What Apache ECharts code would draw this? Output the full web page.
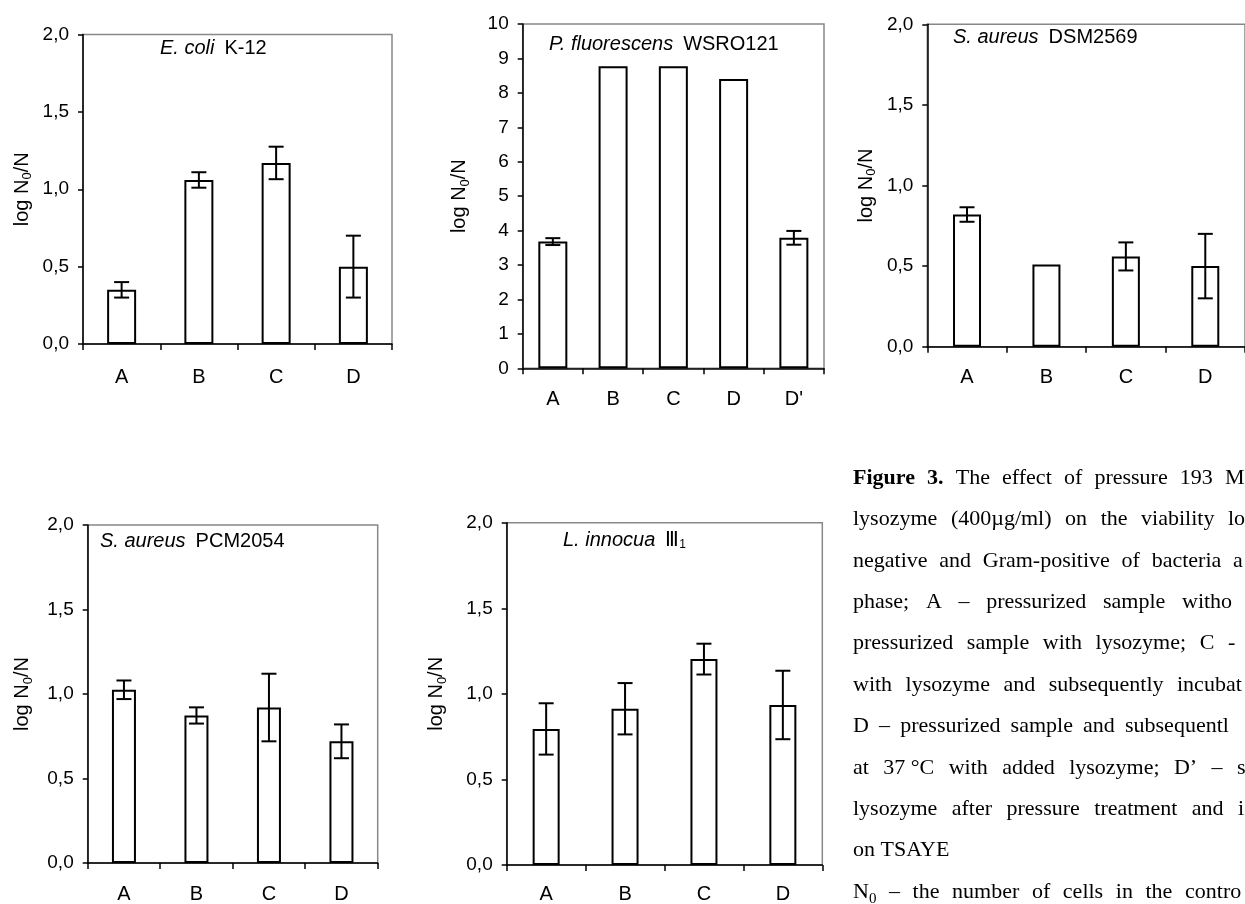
<!DOCTYPE html>
<html><head><meta charset="utf-8">
<script src="https://cdn.jsdelivr.net/npm/echarts@6/dist/echarts.min.js"></script>
<style>html,body{margin:0;padding:0;background:#fff}#c{width:1245px;height:904px}</style>
</head><body><div id="c"></div>
<script>
// ---------- data ----------
const categories4 = ['A', 'B', 'C', 'D'];
const categories5 = ['A', 'B', 'C', 'D', "D'"];

const ecoliMean = [0.35, 1.06, 1.17, 0.50];
const ecoliErr  = [0.05, 0.05, 0.105, 0.20];

const pfluMean = [3.68, 8.77, 8.77, 8.40, 3.79];
const pfluErr  = [0.10, 0, 0, 0, 0.20];

const sadsmMean = [0.82, 0.51, 0.56, 0.50];
const sadsmErr  = [0.045, 0, 0.087, 0.20];

const sapcmMean = [1.025, 0.873, 0.92, 0.72];
const sapcmErr  = [0.055, 0.048, 0.20, 0.10];

const linnMean = [0.795, 0.913, 1.203, 0.935];
const linnErr  = [0.15, 0.15, 0.09, 0.20];

const yTicksSmall = [0, 0.5, 1.0, 1.5, 2.0];
const yTicksBig = [0, 1, 2, 3, 4, 5, 6, 7, 8, 9, 10];

const captionLines = [
  ['*Figure', '*3.', 'The', 'effect', 'of', 'pressure', '193', 'M'],
  ['lysozyme', '(400µg/ml)', 'on', 'the', 'viability', 'lo'],
  ['negative', 'and', 'Gram-positive', 'of', 'bacteria', 'a'],
  ['phase;', 'A', '–', 'pressurized', 'sample', 'witho'],
  ['pressurized', 'sample', 'with', 'lysozyme;', 'C', '-'],
  ['with', 'lysozyme', 'and', 'subsequently', 'incubat'],
  ['D', '–', 'pressurized', 'sample', 'and', 'subsequentl'],
  ['at', '37\u00a0°C', 'with', 'added', 'lysozyme;', 'D’', '–', 's'],
  ['lysozyme', 'after', 'pressure', 'treatment', 'and', 'i'],
  ['on', 'TSAYE'],
  ['N_0', '–', 'the', 'number', 'of', 'cells', 'in', 'the', 'contro']
];

// ---------- layout ----------
const SANS = '"Liberation Sans", Arial, sans-serif';
const SERIF = '"Liberation Serif", "Times New Roman", serif';

const panels = [
  { cats: categories4, mean: ecoliMean, err: ecoliErr, ticks: yTicksSmall,
    grid: { left: 83, top: 34.5, width: 309, height: 309.5 }, barWidth: 29, nameGap: 49, catMargin: 23,
    title: { left: 160, top: 38, text: '{i|E. coli}  {n|K-12}', size: 20 } },
  { cats: categories5, mean: pfluMean, err: pfluErr, ticks: yTicksBig,
    grid: { left: 522.7, top: 24, width: 301.3, height: 344.3 }, barWidth: 29, nameGap: 51, catMargin: 21,
    title: { left: 549, top: 34, text: '{i|P. fluorescens}  {n|WSRO121}', size: 20 } },
  { cats: categories4, mean: sadsmMean, err: sadsmErr, ticks: yTicksSmall,
    grid: { left: 927.3, top: 24.3, width: 328, height: 322.4 }, barWidth: 28, nameGap: 49, catMargin: 21,
    title: { left: 953, top: 27, text: '{i|S. aureus}  {n|DSM2569}', size: 20 } },
  { cats: categories4, mean: sapcmMean, err: sapcmErr, ticks: yTicksSmall,
    grid: { left: 87.7, top: 525, width: 290, height: 340 }, barWidth: 24, nameGap: 53, catMargin: 21,
    title: { left: 100, top: 531, text: '{i|S. aureus}  {n|PCM2054}', size: 20 } },
  { cats: categories4, mean: linnMean, err: linnErr, ticks: yTicksSmall,
    grid: { left: 506.7, top: 522.7, width: 315.6, height: 342.3 }, barWidth: 27, nameGap: 58, catMargin: 19,
    title: { left: 563, top: 529, text: '{i|L. innocua}  {n|Ⅲ}{s|1}', size: 20 } }
];

function fmtTick(v, big) {
  return big ? String(v) : v.toFixed(1).replace('.', ',');
}

function errRender(params, api) {
  const x = api.value(0), m = api.value(1), e = api.value(2);
  if (!e) return null;
  const top = api.coord([x, m + e]);
  const bot = api.coord([x, m - e]);
  const hw = 7.5;
  const st = { stroke: '#000', lineWidth: 2 };
  return { type: 'group', children: [
    { type: 'line', shape: { x1: top[0], y1: top[1], x2: bot[0], y2: bot[1] }, style: st },
    { type: 'line', shape: { x1: top[0] - hw, y1: top[1], x2: top[0] + hw, y2: top[1] }, style: st },
    { type: 'line', shape: { x1: bot[0] - hw, y1: bot[1], x2: bot[0] + hw, y2: bot[1] }, style: st }
  ]};
}

const grids = [], xAxes = [], yAxes = [], series = [], titles = [];
panels.forEach((p, i) => {
  const big = p.ticks === yTicksBig;
  grids.push(Object.assign({ show: true, borderColor: '#888', borderWidth: 1.5, backgroundColor: 'transparent' }, p.grid));
  xAxes.push({
    type: 'category', gridIndex: i, data: p.cats,
    axisLine: { lineStyle: { color: '#000', width: 1.5 } },
    axisTick: { show: true, length: 6, lineStyle: { color: '#000', width: 1.5 } },
    axisLabel: { color: '#000', fontSize: 20, fontFamily: SANS, margin: p.catMargin }
  });
  yAxes.push({
    type: 'value', gridIndex: i,
    min: p.ticks[0], max: p.ticks[p.ticks.length - 1], interval: p.ticks[1] - p.ticks[0],
    splitLine: { show: false },
    axisLine: { show: true, lineStyle: { color: '#000', width: 1.5 } },
    axisTick: { show: true, length: 5, lineStyle: { color: '#000', width: 1.5 } },
    axisLabel: { color: '#000', fontSize: 19, fontFamily: SANS, margin: 14, formatter: v => fmtTick(v, big) },
    name: '{a|log N}{s|0}{a|/N}', nameLocation: 'middle', nameGap: p.nameGap,
    nameTextStyle: { color: '#000', fontFamily: SANS, fontSize: 20,
      rich: { a: { fontSize: 20, fontFamily: SANS, color: '#000' },
              s: { fontSize: 13, fontFamily: SANS, color: '#000', padding: [11, 0, 0, 0] } } }
  });
  series.push({
    type: 'bar', xAxisIndex: i, yAxisIndex: i, data: p.mean, barWidth: p.barWidth,
    itemStyle: { color: '#fff', borderColor: '#000', borderWidth: 2 }, silent: true
  });
  series.push({
    type: 'custom', xAxisIndex: i, yAxisIndex: i, z: 5, silent: true,
    data: p.cats.map((c, k) => [k, p.mean[k], p.err[k]]),
    renderItem: errRender
  });
  titles.push({
    left: p.title.left, top: p.title.top, padding: 0, text: p.title.text,
    textStyle: { fontWeight: 'normal', rich: {
      i: { fontStyle: 'italic', fontWeight: 'normal', fontSize: p.title.size, fontFamily: SANS, color: '#000' },
      n: { fontWeight: 'normal', fontSize: p.title.size, fontFamily: SANS, color: '#000' },
      s: { fontWeight: 'normal', fontSize: 12, fontFamily: SANS, color: '#000', padding: [10, 0, 0, 0] }
    } }
  });
});

// ---------- caption (justified text, clipped at right edge) ----------
const CAP_X = 853, CAP_Y0 = 478, CAP_DY = 41.4, CAP_SIZE = 22;
const captionLastX = [1225, 1228, 1233, 1182, 1228, 1177, 1125, 1237, 1238, null, 1185];
const mctx = document.createElement('canvas').getContext('2d');
function measure(word) {
  const bold = word[0] === '*';
  if (word === 'N_0') {
    mctx.font = CAP_SIZE + 'px ' + SERIF; const w1 = mctx.measureText('N').width;
    mctx.font = '15px ' + SERIF; return w1 + mctx.measureText('0').width;
  }
  mctx.font = (bold ? 'bold ' : '') + CAP_SIZE + 'px ' + SERIF;
  return mctx.measureText(bold ? word.slice(1) : word).width;
}
const graphics = [];
captionLines.forEach((words, li) => {
  const y = CAP_Y0 + li * CAP_DY;
  const widths = words.map(measure);
  let gap;
  if (captionLastX[li] == null) {
    mctx.font = CAP_SIZE + 'px ' + SERIF; gap = mctx.measureText(' ').width;
  } else {
    const sumBefore = widths.slice(0, -1).reduce((a, b) => a + b, 0);
    gap = (captionLastX[li] - CAP_X - sumBefore) / (words.length - 1);
  }
  let x = CAP_X;
  words.forEach((w, wi) => {
    if (w === 'N_0') {
      graphics.push({ type: 'text', x: x, y: y, style: { text: 'N', font: CAP_SIZE + 'px ' + SERIF, fill: '#000', textVerticalAlign: 'middle' } });
      mctx.font = CAP_SIZE + 'px ' + SERIF;
      graphics.push({ type: 'text', x: x + mctx.measureText('N').width, y: y + 7, style: { text: '0', font: '15px ' + SERIF, fill: '#000', textVerticalAlign: 'middle' } });
    } else {
      const bold = w[0] === '*';
      graphics.push({ type: 'text', x: x, y: y, style: { text: bold ? w.slice(1) : w, font: (bold ? 'bold ' : '') + CAP_SIZE + 'px ' + SERIF, fill: '#000', textVerticalAlign: 'middle' } });
    }
    x += widths[wi] + gap;
  });
});

const chart = echarts.init(document.getElementById('c'), null, { renderer: 'canvas' });
chart.setOption({
  backgroundColor: '#fff',
  animation: false,
  title: titles,
  grid: grids,
  xAxis: xAxes,
  yAxis: yAxes,
  series: series,
  graphic: graphics
});
</script>
</body></html>
